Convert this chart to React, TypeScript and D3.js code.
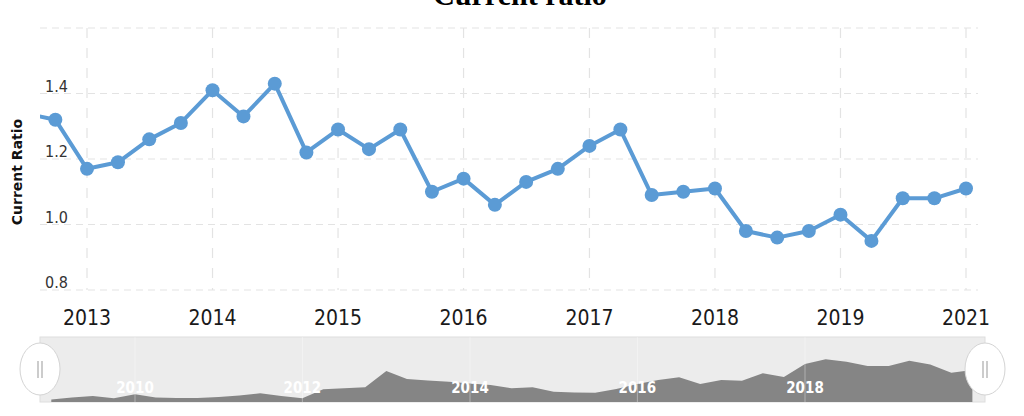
import * as d3 from "d3";

// main series (quarterly)
const quarters = [
  "2012-07-01", "2012-10-01",
  "2013-01-01", "2013-04-01", "2013-07-01", "2013-10-01",
  "2014-01-01", "2014-04-01", "2014-07-01", "2014-10-01",
  "2015-01-01", "2015-04-01", "2015-07-01", "2015-10-01",
  "2016-01-01", "2016-04-01", "2016-07-01", "2016-10-01",
  "2017-01-01", "2017-04-01", "2017-07-01", "2017-10-01",
  "2018-01-01", "2018-04-01", "2018-07-01", "2018-10-01",
  "2019-01-01", "2019-04-01", "2019-07-01", "2019-10-01",
  "2020-01-01",
];
const ratios = [
  1.34, 1.32,
  1.17, 1.19, 1.26, 1.31,
  1.41, 1.33, 1.43, 1.22,
  1.29, 1.23, 1.29, 1.10,
  1.14, 1.06, 1.13, 1.17,
  1.24, 1.29, 1.09, 1.10,
  1.11, 0.98, 0.96, 0.98,
  1.03, 0.95, 1.08, 1.08,
  1.11,
];

const yTicks = [0.8, 1.0, 1.2, 1.4, 1.6];
const yTickLabels = ["0.8", "1.0", "1.2", "1.4", ""];
const xTickDates = ["2013-01-01", "2014-01-01", "2015-01-01", "2016-01-01", "2017-01-01", "2018-01-01", "2019-01-01", "2020-01-01"];
const xTickLabels = ["2013", "2014", "2015", "2016", "2017", "2018", "2019", "2021"];

// navigator series (full history)
const navQuarters = [
  "2009-01-01", "2009-04-01", "2009-07-01", "2009-10-01",
  "2010-01-01", "2010-04-01", "2010-07-01", "2010-10-01",
  "2011-01-01", "2011-04-01", "2011-07-01", "2011-10-01",
  "2012-01-01", "2012-04-01", "2012-07-01", "2012-10-01",
  "2013-01-01", "2013-04-01", "2013-07-01", "2013-10-01",
  "2014-01-01", "2014-04-01", "2014-07-01", "2014-10-01",
  "2015-01-01", "2015-04-01", "2015-07-01", "2015-10-01",
  "2016-01-01", "2016-04-01", "2016-07-01", "2016-10-01",
  "2017-01-01", "2017-04-01", "2017-07-01", "2017-10-01",
  "2018-01-01", "2018-04-01", "2018-07-01", "2018-10-01",
  "2019-01-01", "2019-04-01", "2019-07-01", "2019-10-01",
  "2020-01-01",
];
const navValues = [
  0.20, 0.35, 0.46, 0.28,
  0.59, 0.35, 0.30, 0.30,
  0.38, 0.50, 0.67, 0.46,
  0.28, 0.98, 1.05, 1.13,
  2.38, 1.77, 1.65, 1.56,
  1.42, 1.31, 1.05, 1.13,
  0.79, 0.73, 0.72, 1.00,
  1.38, 1.69, 1.90, 1.38,
  1.69, 1.64, 2.21, 1.92,
  2.92, 3.28, 3.10, 2.77,
  2.77, 3.18, 2.88, 2.25,
  2.46,
];
const navTickDates = ["2010-01-01", "2012-01-01", "2014-01-01", "2016-01-01", "2018-01-01"];
const navTickLabels = ["2010", "2012", "2014", "2016", "2018"];

const parse = d3.timeParse("%Y-%m-%d");
const W = 1024, H = 416;
const LINE = "#5b9bd5";

export default function App() {
  const plotL = 40, plotR = 978, plotT = 28, plotB = 290;

  const x = d3.scaleTime()
    .domain([parse("2013-01-01")!, parse("2020-01-01")!])
    .range([87, 966]);
  const y = d3.scaleLinear().domain([0.8, 1.6]).range([plotB, plotT]);

  const pts = quarters.map((q, i) => ({ d: parse(q)!, v: ratios[i] }));
  const line = d3.line<{ d: Date; v: number }>()
    .x(p => x(p.d))
    .y(p => y(p.v));

  const nx = d3.scaleTime()
    .domain([parse("2010-01-01")!, parse("2018-01-01")!])
    .range([135, 805]);
  const ny = d3.scaleLinear().domain([0, 5]).range([402, 337]);
  const navPts = navQuarters.map((q, i) => ({ d: parse(q)!, v: navValues[i] }));
  const area = d3.area<{ d: Date; v: number }>()
    .x(p => nx(p.d))
    .y0(ny(0))
    .y1(p => ny(p.v));

  const tickFont = "'DejaVu Sans Condensed', 'DejaVu Sans', sans-serif";

  return (
    <svg width={W} height={H} style={{ position: "absolute", left: 0, top: 0, background: "#fff" }}>
      <defs>
        <clipPath id="plotClip">
          <rect x={plotL} y={0} width={plotR - plotL} height={plotB + 10} />
        </clipPath>
      </defs>

      <text x={520} y={5} textAnchor="middle" fontFamily="'Liberation Serif', 'Times New Roman', serif"
        fontWeight="bold" fontSize={30} fill="#000">Current ratio</text>

      {/* grid */}
      {yTicks.map((t, i) => (
        <line key={"hg" + i} x1={plotL} x2={plotR} y1={y(t)} y2={y(t)}
          stroke="#e3e3e3" strokeWidth={1.2} strokeDasharray="7,5" />
      ))}
      {xTickDates.map((t, i) => (
        <line key={"vg" + i} x1={x(parse(t)!)} x2={x(parse(t)!)} y1={plotT} y2={plotB}
          stroke="#e3e3e3" strokeWidth={1.2} strokeDasharray="10,10" />
      ))}

      {/* y tick labels */}
      {yTicks.map((t, i) => (
        <text key={"yl" + i} x={45} y={y(t) - 2} fontFamily={tickFont} fontSize={16} fill="#333">
          {yTickLabels[i]}
        </text>
      ))}

      <text transform="translate(22,172) rotate(-90)" textAnchor="middle"
        fontFamily="'DejaVu Sans', sans-serif" fontWeight="bold" fontSize={14} fill="#111">Current Ratio</text>

      {/* x tick labels */}
      {xTickDates.map((t, i) => (
        <text key={"xl" + i} x={x(parse(t)!)} y={325} textAnchor="middle"
          fontFamily={tickFont} fontSize={21} fill="#1a1a1a">{xTickLabels[i]}</text>
      ))}

      {/* series */}
      <g clipPath="url(#plotClip)">
        <path d={line(pts) ?? ""} fill="none" stroke={LINE} strokeWidth={4} strokeLinejoin="round" />
        {pts.map((p, i) => (
          <circle key={"pt" + i} cx={x(p.d)} cy={y(p.v)} r={7} fill={LINE} />
        ))}
      </g>

      {/* navigator */}
      <rect x={40} y={337} width={945} height={65} fill="#ececec" stroke="#dedede" strokeWidth={1} />
      <path d={area(navPts) ?? ""} fill="#858585" />
      {navTickDates.map((t, i) => (
        <line key={"ng" + i} x1={nx(parse(t)!)} x2={nx(parse(t)!)} y1={337} y2={402}
          stroke="#ffffff" strokeOpacity={0.35} strokeWidth={1} />
      ))}
      {navTickDates.map((t, i) => (
        <text key={"nl" + i} x={nx(parse(t)!)} y={393} textAnchor="middle"
          fontFamily={tickFont} fontWeight="bold" fontSize={15} fill="#ffffff">{navTickLabels[i]}</text>
      ))}

      {[40, 985].map((cx, i) => (
        <g key={"h" + i}>
          <ellipse cx={cx} cy={369} rx={20} ry={26} fill="#fff" stroke="#d4d4d4" strokeWidth={1} />
          <line x1={cx - 2} x2={cx - 2} y1={361} y2={378} stroke="#aaa" strokeWidth={1.2} />
          <line x1={cx + 2} x2={cx + 2} y1={361} y2={378} stroke="#aaa" strokeWidth={1.2} />
        </g>
      ))}
    </svg>
  );
}
